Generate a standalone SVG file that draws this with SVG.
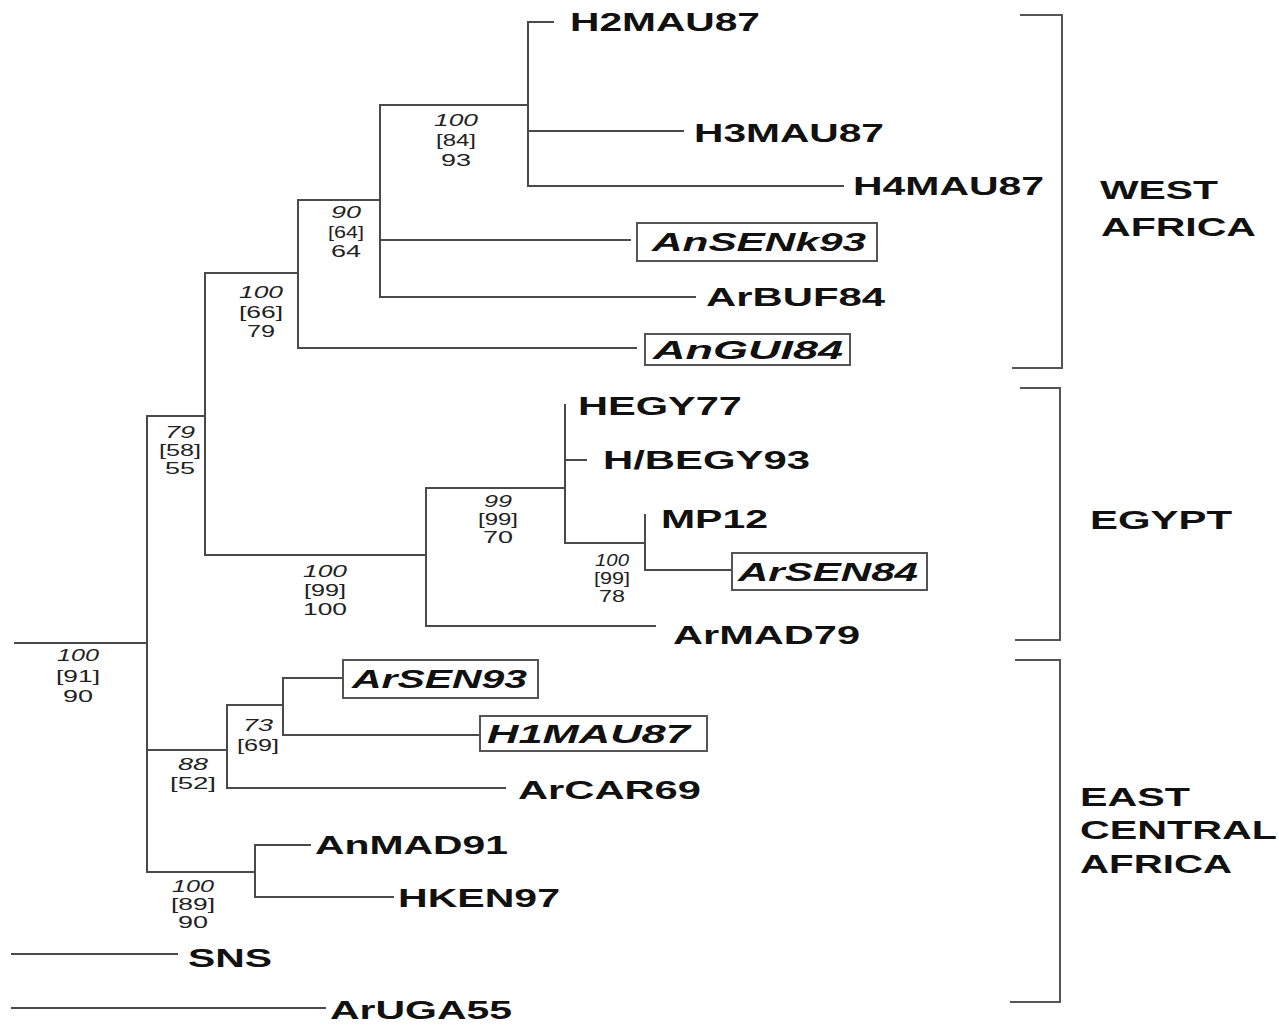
<svg xmlns="http://www.w3.org/2000/svg" width="1279" height="1025" viewBox="0 0 1279 1025">
<style>
.br{stroke:#4a4a4a;stroke-width:2;fill:none;stroke-linecap:square}
.bk{stroke:#555;stroke-width:2;fill:none}
.box{fill:none;stroke:#555;stroke-width:2}
.tx{font-family:"Liberation Sans",Arial,sans-serif;font-weight:bold;font-size:25px;fill:#111}
.it{font-style:italic}
.bs{font-family:"Liberation Sans",Arial,sans-serif;font-size:16px;fill:#222;text-anchor:middle}
.bi{font-style:italic}
.rg{font-family:"Liberation Sans",Arial,sans-serif;font-weight:bold;font-size:25px;fill:#111}
</style>
<rect width="1279" height="1025" fill="#fff"/>
<g id="connectors">
<path class="br" d="M15 643H147M147 416V872"/>
<path class="br" d="M147 416H205M205 273V555"/>
<path class="br" d="M205 273H298M298 200V348M298 348H636"/>
<path class="br" d="M298 200H380M380 105V297M380 240H630M380 297H695"/>
<path class="br" d="M380 105H528M528 22V186M528 22H553M528 131H683M528 186H843"/>
<path class="br" d="M205 555H426M426 488V626M426 626H655"/>
<path class="br" d="M426 488H565M565 405V543M565 460H586"/>
<path class="br" d="M565 543H645M645 515V570M645 570H731"/>
<path class="br" d="M147 750H227M227 705V788M227 788H505"/>
<path class="br" d="M227 705H283M283 678V735M283 678H342M283 735H479"/>
<path class="br" d="M147 872H255M255 845V897M255 845H310M255 897H393"/>
<path class="br" d="M12 954H177M12 1008H325"/>
</g>
<g id="H2MAU87"><text class="tx" x="570" y="31" textLength="190" lengthAdjust="spacingAndGlyphs">H2MAU87</text></g>
<g id="H3MAU87"><text class="tx" x="694" y="142" textLength="190" lengthAdjust="spacingAndGlyphs">H3MAU87</text></g>
<g id="H4MAU87"><text class="tx" x="853" y="195" textLength="191" lengthAdjust="spacingAndGlyphs">H4MAU87</text></g>
<g id="AnSENk93"><rect class="box" x="637" y="223" width="240" height="38"/><text class="tx it" x="652" y="251" textLength="214" lengthAdjust="spacingAndGlyphs">AnSENk93</text></g>
<g id="ArBUF84"><text class="tx" x="706" y="306" textLength="179" lengthAdjust="spacingAndGlyphs">ArBUF84</text></g>
<g id="AnGUI84"><rect class="box" x="645" y="334" width="205" height="31"/><text class="tx it" x="653" y="359" textLength="190" lengthAdjust="spacingAndGlyphs">AnGUI84</text></g>
<g id="HEGY77"><text class="tx" x="578" y="415" textLength="164" lengthAdjust="spacingAndGlyphs">HEGY77</text></g>
<g id="HBEGY93"><text class="tx" x="603" y="469" textLength="207" lengthAdjust="spacingAndGlyphs">H/BEGY93</text></g>
<g id="MP12"><text class="tx" x="661" y="528" textLength="107" lengthAdjust="spacingAndGlyphs">MP12</text></g>
<g id="ArSEN84"><rect class="box" x="732" y="553" width="195" height="37"/><text class="tx it" x="738" y="581" textLength="180" lengthAdjust="spacingAndGlyphs">ArSEN84</text></g>
<g id="ArMAD79"><text class="tx" x="673" y="644" textLength="187" lengthAdjust="spacingAndGlyphs">ArMAD79</text></g>
<g id="ArSEN93"><rect class="box" x="343" y="660" width="195" height="38"/><text class="tx it" x="352" y="688" textLength="175" lengthAdjust="spacingAndGlyphs">ArSEN93</text></g>
<g id="H1MAU87"><rect class="box" x="480" y="716" width="227" height="35"/><text class="tx it" x="487" y="743" textLength="203" lengthAdjust="spacingAndGlyphs">H1MAU87</text></g>
<g id="ArCAR69"><text class="tx" x="518" y="799" textLength="183" lengthAdjust="spacingAndGlyphs">ArCAR69</text></g>
<g id="AnMAD91"><text class="tx" x="315" y="854" textLength="193" lengthAdjust="spacingAndGlyphs">AnMAD91</text></g>
<g id="HKEN97"><text class="tx" x="398" y="907" textLength="162" lengthAdjust="spacingAndGlyphs">HKEN97</text></g>
<g id="SNS"><text class="tx" x="188" y="967" textLength="84" lengthAdjust="spacingAndGlyphs">SNS</text></g>
<g id="ArUGA55"><text class="tx" x="330" y="1019" textLength="182" lengthAdjust="spacingAndGlyphs">ArUGA55</text></g>
<g id="node-root"><text class="bs bi" x="78" y="661" textLength="42" lengthAdjust="spacingAndGlyphs">100</text><text class="bs" x="78" y="682" textLength="44" lengthAdjust="spacingAndGlyphs">[91]</text><text class="bs" x="78" y="702" textLength="30" lengthAdjust="spacingAndGlyphs">90</text></g>
<g id="node-A"><text class="bs bi" x="180" y="438" textLength="30" lengthAdjust="spacingAndGlyphs">79</text><text class="bs" x="180" y="456" textLength="42" lengthAdjust="spacingAndGlyphs">[58]</text><text class="bs" x="180" y="474" textLength="30" lengthAdjust="spacingAndGlyphs">55</text></g>
<g id="node-B"><text class="bs bi" x="261" y="298" textLength="44" lengthAdjust="spacingAndGlyphs">100</text><text class="bs" x="261" y="318" textLength="44" lengthAdjust="spacingAndGlyphs">[66]</text><text class="bs" x="261" y="337" textLength="28" lengthAdjust="spacingAndGlyphs">79</text></g>
<g id="node-C"><text class="bs bi" x="346" y="218" textLength="30" lengthAdjust="spacingAndGlyphs">90</text><text class="bs" x="346" y="238" textLength="36" lengthAdjust="spacingAndGlyphs">[64]</text><text class="bs" x="346" y="257" textLength="30" lengthAdjust="spacingAndGlyphs">64</text></g>
<g id="node-D"><text class="bs bi" x="456" y="126" textLength="44" lengthAdjust="spacingAndGlyphs">100</text><text class="bs" x="456" y="146" textLength="40" lengthAdjust="spacingAndGlyphs">[84]</text><text class="bs" x="456" y="166" textLength="30" lengthAdjust="spacingAndGlyphs">93</text></g>
<g id="node-E"><text class="bs bi" x="325" y="577" textLength="44" lengthAdjust="spacingAndGlyphs">100</text><text class="bs" x="325" y="596" textLength="42" lengthAdjust="spacingAndGlyphs">[99]</text><text class="bs" x="325" y="615" textLength="44" lengthAdjust="spacingAndGlyphs">100</text></g>
<g id="node-F"><text class="bs bi" x="498" y="507" textLength="28" lengthAdjust="spacingAndGlyphs">99</text><text class="bs" x="498" y="525" textLength="40" lengthAdjust="spacingAndGlyphs">[99]</text><text class="bs" x="498" y="543" textLength="30" lengthAdjust="spacingAndGlyphs">70</text></g>
<g id="node-G"><text class="bs bi" x="612" y="566" textLength="34" lengthAdjust="spacingAndGlyphs">100</text><text class="bs" x="612" y="584" textLength="36" lengthAdjust="spacingAndGlyphs">[99]</text><text class="bs" x="612" y="602" textLength="26" lengthAdjust="spacingAndGlyphs">78</text></g>
<g id="node-H"><text class="bs bi" x="193" y="770" textLength="30" lengthAdjust="spacingAndGlyphs">88</text><text class="bs" x="193" y="789" textLength="46" lengthAdjust="spacingAndGlyphs">[52]</text></g>
<g id="node-I"><text class="bs bi" x="258" y="731" textLength="30" lengthAdjust="spacingAndGlyphs">73</text><text class="bs" x="258" y="751" textLength="42" lengthAdjust="spacingAndGlyphs">[69]</text></g>
<g id="node-J"><text class="bs bi" x="193" y="892" textLength="42" lengthAdjust="spacingAndGlyphs">100</text><text class="bs" x="193" y="910" textLength="44" lengthAdjust="spacingAndGlyphs">[89]</text><text class="bs" x="193" y="928" textLength="30" lengthAdjust="spacingAndGlyphs">90</text></g>
<g id="region-west-africa"><path class="bk" d="M1020 15H1062V368H1012"/><text class="rg" x="1100" y="199" textLength="118" lengthAdjust="spacingAndGlyphs">WEST</text><text class="rg" x="1101" y="236" textLength="155" lengthAdjust="spacingAndGlyphs">AFRICA</text></g>
<g id="region-egypt"><path class="bk" d="M1020 388H1060V640H1015"/><text class="rg" x="1090" y="529" textLength="142" lengthAdjust="spacingAndGlyphs">EGYPT</text></g>
<g id="region-east-central-africa"><path class="bk" d="M1015 660H1060V1002H1010"/><text class="rg" x="1080" y="806" textLength="110" lengthAdjust="spacingAndGlyphs">EAST</text><text class="rg" x="1080" y="839" textLength="197" lengthAdjust="spacingAndGlyphs">CENTRAL</text><text class="rg" x="1080" y="873" textLength="152" lengthAdjust="spacingAndGlyphs">AFRICA</text></g>
</svg>
